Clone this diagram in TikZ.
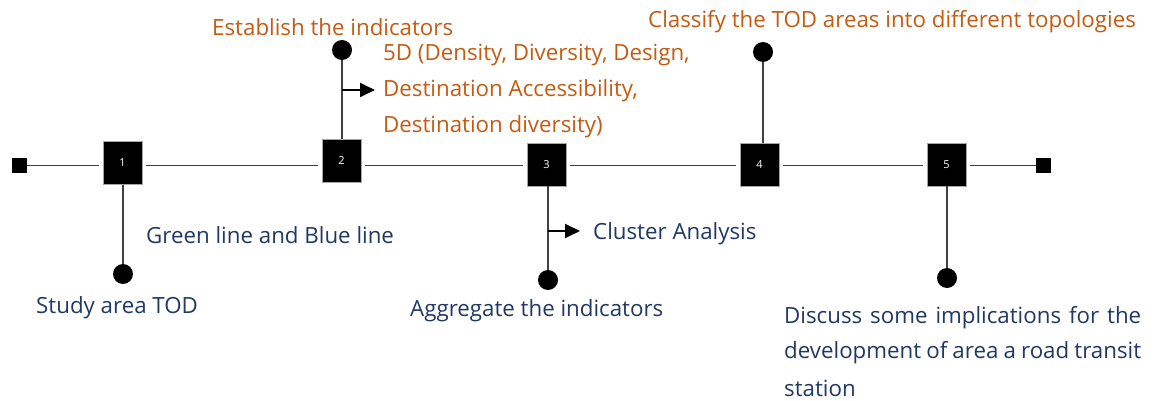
\documentclass[tikz,border=0pt]{standalone}
\usepackage{fontspec}
\setmainfont{Open Sans}
\usetikzlibrary{arrows.meta}
\definecolor{orng}{RGB}{197,90,17}
\definecolor{dblue}{RGB}{31,56,100}
\definecolor{lgrey}{RGB}{64,64,64}
\tikzset{
  bigbox/.style={draw=gray!70, fill=black, minimum width=39pt, minimum height=43pt, inner sep=0pt, text=white, font=\fontsize{11}{13}\selectfont},
  endbox/.style={fill=black, minimum width=15pt, minimum height=15pt, inner sep=0pt},
  dot/.style={circle, fill=black, minimum size=20pt, inner sep=0pt},
  conn/.style={draw=lgrey, line width=1.9pt},
  gap/.style={shorten <=4pt, shorten >=4pt},
  arr/.style={conn, draw=black, -{Triangle[length=15pt,width=14pt]}},
  lbl/.style={anchor=west, inner sep=0pt, font=\fontsize{22.3}{26}\selectfont},
  olbl/.style={lbl, text=orng},
  blbl/.style={lbl, text=dblue},
}
\begin{document}
\begin{tikzpicture}[x=1pt,y=-1pt]
\useasboundingbox (0,0) rectangle (1159,401);
% boxes
\node[endbox] (s0) at (19.5,165.5) {};
\node[bigbox] (b1) at (122.5,163) {1};
\node[bigbox] (b2) at (341.5,161) {2};
\node[bigbox] (b3) at (546.5,164.5) {3};
\node[bigbox] (b4) at (759.5,164.5) {4};
\node[bigbox] (b5) at (946.5,164.5) {5};
\node[endbox] (s6) at (1043.5,165.5) {};
% dots
\node[dot] (c1) at (123,274) {};
\node[dot] (c2) at (342,50) {};
\node[dot] (c3) at (548,280) {};
\node[dot] (c4) at (763,52) {};
\node[dot] (c5) at (947,278) {};
% main line
\draw[conn, shorten >=4pt] (s0) -- (b1.west |- s0);
\draw[conn, gap] (b1.east |- s0) -- (b2.west |- s0);
\draw[conn, gap] (b2.east |- s0) -- (b3.west |- s0);
\draw[conn, gap] (b3.east |- s0) -- (b4.west |- s0);
\draw[conn, gap] (b4.east |- s0) -- (b5.west |- s0);
\draw[conn, shorten <=4pt] (b5.east |- s0) -- (s6);
% verticals
\draw[conn] (c1 |- b1.south) -- (c1);
\draw[conn] (c2 |- b2.north) -- (c2);
\draw[conn] (c3 |- b3.south) -- (c3);
\draw[conn] (c4 |- b4.north) -- (c4);
\draw[conn] (c5 |- b5.south) -- (c5);
% arrows
\coordinate (a2) at (342,90);
\coordinate (t2) at (375,90);
\coordinate (a3) at (548,231);
\coordinate (t3) at (580,231);
\draw[arr] (a2) -- (t2);
\draw[arr] (a3) -- (t3);
% labels
\node[olbl] (l2) at (212,27) {Establish the indicators};
\node[olbl] (l2a) at (383,55) {5D (Density, Diversity, Design,};
\node[olbl] (l2b) at (383,91) {Destination Accessibility,};
\node[olbl] (l2c) at (383,127) {Destination diversity)};
\node[olbl] (l4) at (648,22) {Classify the TOD areas into different topologies};
\node[blbl] (l1a) at (146,235) {Green line and Blue line};
\node[blbl] (l1) at (36,308) {Study area TOD};
\node[blbl] (l3a) at (593,234) {Cluster Analysis};
\node[blbl] (l3) at (410,311) {Aggregate the indicators};
\node[blbl] (l5a) at (784,318) {\makebox[357pt][s]{Discuss some implications for the}};
\node[blbl] (l5b) at (784,353) {\makebox[357pt][s]{development of area a road transit}};
\node[blbl] (l5c) at (784,388) {station};
\end{tikzpicture}
\end{document}
